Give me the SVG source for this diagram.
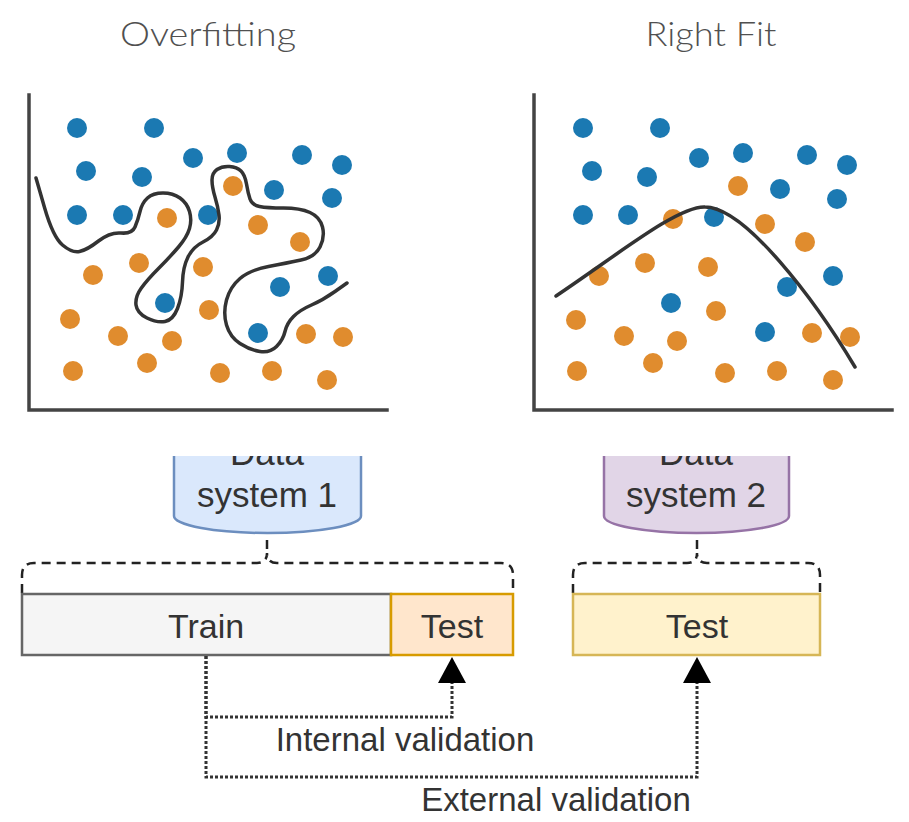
<svg xmlns="http://www.w3.org/2000/svg" width="909" height="822" viewBox="0 0 909 822">
  <style>
    .title { font-family: "Lato", "Open Sans", "Liberation Sans", sans-serif; font-size: 34px; font-weight: 300; fill: #505050; text-anchor: middle; }
    .lbl { font-family: "Liberation Sans", Arial, sans-serif; fill: #333333; text-anchor: middle; }
    .axis { fill: none; stroke: #444444; stroke-width: 3.5; stroke-linecap: square; }
    .fit { fill: none; stroke: #333333; stroke-width: 3.5; stroke-linecap: round; stroke-linejoin: round; }
    .b { fill: #1b79b2; }
    .o { fill: #e08c2e; }
    .brace { fill: none; stroke: #222222; stroke-width: 2.5; stroke-dasharray: 9 6; }
    .dot { fill: none; stroke: #333333; stroke-width: 3; stroke-dasharray: 3 2; }
  </style>
  <defs>
    <clipPath id="lowerClip">
      <rect x="0" y="456" width="909" height="366"/>
    </clipPath>
    <marker id="tri" viewBox="0 0 26 28" refX="0" refY="14" markerWidth="26" markerHeight="28" markerUnits="userSpaceOnUse" orient="auto">
      <path d="M0,0 L26,14 L0,28 Z" fill="#000000"/>
    </marker>
  </defs>
  <rect width="909" height="822" fill="#ffffff"/>

  <!-- Overfitting panel -->
  <g id="overfitting">
    <text class="title" x="208" y="46" textLength="176" lengthAdjust="spacingAndGlyphs">Overfitting</text>
    <path class="axis" d="M29,95 V410 H387"/>
    <g>
      <circle class="b" cx="77" cy="128" r="10"/>
      <circle class="b" cx="154" cy="128" r="10"/>
      <circle class="b" cx="86" cy="171" r="10"/>
      <circle class="b" cx="142" cy="177" r="10"/>
      <circle class="b" cx="193" cy="158" r="10"/>
      <circle class="b" cx="237" cy="153" r="10"/>
      <circle class="b" cx="302" cy="155" r="10"/>
      <circle class="b" cx="342" cy="165" r="10"/>
      <circle class="b" cx="77" cy="215" r="10"/>
      <circle class="b" cx="123" cy="215" r="10"/>
      <circle class="b" cx="208" cy="215" r="10"/>
      <circle class="b" cx="274" cy="190" r="10"/>
      <circle class="b" cx="332" cy="198" r="10"/>
      <circle class="b" cx="165" cy="303" r="10"/>
      <circle class="b" cx="280" cy="287" r="10"/>
      <circle class="b" cx="328" cy="276" r="10"/>
      <circle class="b" cx="258" cy="333" r="10"/>
      <circle class="o" cx="233" cy="186" r="10"/>
      <circle class="o" cx="167" cy="218" r="10"/>
      <circle class="o" cx="258" cy="225" r="10"/>
      <circle class="o" cx="300" cy="242" r="10"/>
      <circle class="o" cx="93" cy="275" r="10"/>
      <circle class="o" cx="139" cy="263" r="10"/>
      <circle class="o" cx="203" cy="267" r="10"/>
      <circle class="o" cx="209" cy="310" r="10"/>
      <circle class="o" cx="70" cy="319" r="10"/>
      <circle class="o" cx="118" cy="336" r="10"/>
      <circle class="o" cx="172" cy="341" r="10"/>
      <circle class="o" cx="147" cy="363" r="10"/>
      <circle class="o" cx="73" cy="371" r="10"/>
      <circle class="o" cx="220" cy="373" r="10"/>
      <circle class="o" cx="272" cy="371" r="10"/>
      <circle class="o" cx="306" cy="334" r="10"/>
      <circle class="o" cx="343" cy="337" r="10"/>
      <circle class="o" cx="327" cy="380" r="10"/>
    </g>
    <path class="fit" d="M36,178 L44.5,207.5 Q53,237 62.5,245 Q72,253 79.5,251.5 Q87,250 98.5,241 Q110,232 121,233 Q132,234 135,227 Q138,220 140,211.5 Q142,203 147.5,198 Q153,193 163,193 Q173,193 180,198 Q187,203 189.5,211.5 Q192,220 189.5,228.5 Q187,237 178.5,247 Q170,257 158.5,268.5 Q147,280 141,288.5 Q135,297 136,305 Q137,313 147,318 Q157,323 165,321.5 Q173,320 177.5,308.5 Q182,297 182.5,282 Q183,267 188,257 Q193,247 203,242 Q213,237 216.5,230 Q220,223 219,215 Q218,207 215,197 Q212,187 212,180 Q212,173 217,169.5 Q222,166 229.5,166.5 Q237,167 241,171 Q245,175 246.5,184 Q248,193 250,199 Q252,205 259.5,206.5 Q267,208 283.5,208 Q300,208 310,212.5 Q320,217 322.5,227 Q325,237 320,247 Q315,257 301,260 Q287,263 268.5,266.5 Q250,270 240,278.5 Q230,287 226.5,300 Q223,313 226.5,325 Q230,337 240,343.5 Q250,350 260,351.5 Q270,353 276.5,346.5 Q283,340 285,331.5 Q287,323 293.5,316.5 Q300,310 311.5,305 Q323,300 335,291.5 L347,283"/>
  </g>

  <!-- Right fit panel -->
  <g id="right-fit">
    <text class="title" x="711" y="46" textLength="131" lengthAdjust="spacingAndGlyphs">Right Fit</text>
    <path class="axis" d="M534,95 V410 H892"/>
    <g>
      <circle class="b" cx="583" cy="128" r="10"/>
      <circle class="b" cx="660" cy="128" r="10"/>
      <circle class="b" cx="592" cy="171" r="10"/>
      <circle class="b" cx="647" cy="177" r="10"/>
      <circle class="b" cx="699" cy="158" r="10"/>
      <circle class="b" cx="743" cy="153" r="10"/>
      <circle class="b" cx="807" cy="155" r="10"/>
      <circle class="b" cx="847" cy="165" r="10"/>
      <circle class="b" cx="583" cy="215" r="10"/>
      <circle class="b" cx="628" cy="215" r="10"/>
      <circle class="b" cx="714" cy="217" r="10"/>
      <circle class="b" cx="780" cy="189" r="10"/>
      <circle class="b" cx="837" cy="199" r="10"/>
      <circle class="b" cx="671" cy="303" r="10"/>
      <circle class="b" cx="787" cy="287" r="10"/>
      <circle class="b" cx="833" cy="276" r="10"/>
      <circle class="b" cx="765" cy="332" r="10"/>
      <circle class="o" cx="738" cy="186" r="10"/>
      <circle class="o" cx="673" cy="219" r="10"/>
      <circle class="o" cx="765" cy="224" r="10"/>
      <circle class="o" cx="805" cy="242" r="10"/>
      <circle class="o" cx="599" cy="276" r="10"/>
      <circle class="o" cx="645" cy="263" r="10"/>
      <circle class="o" cx="708" cy="267" r="10"/>
      <circle class="o" cx="716" cy="311" r="10"/>
      <circle class="o" cx="576" cy="320" r="10"/>
      <circle class="o" cx="624" cy="336" r="10"/>
      <circle class="o" cx="677" cy="341" r="10"/>
      <circle class="o" cx="653" cy="363" r="10"/>
      <circle class="o" cx="577" cy="371" r="10"/>
      <circle class="o" cx="725" cy="373" r="10"/>
      <circle class="o" cx="777" cy="371" r="10"/>
      <circle class="o" cx="812" cy="333" r="10"/>
      <circle class="o" cx="850" cy="337" r="10"/>
      <circle class="o" cx="833" cy="380" r="10"/>
    </g>
    <path class="fit" d="M556,296 C620,253 678,206 705,207 C745,207 815,300 855,367"/>
  </g>

  <!-- Data sources (upper part cut off) -->
  <g id="data-system-1" clip-path="url(#lowerClip)">
    <path d="M174,430 L174,516 A93.5,17 0 0 0 361,516 L361,430 Z" fill="#dae8fc" stroke="#6c8ebf" stroke-width="2.5"/>
    <text class="lbl" x="267" y="465" font-size="35">Data</text>
    <text class="lbl" x="267" y="507" font-size="35">system 1</text>
  </g>
  <g id="data-system-2" clip-path="url(#lowerClip)">
    <path d="M604,430 L604,516 A92.5,17 0 0 0 789,516 L789,430 Z" fill="#e1d5e7" stroke="#9673a6" stroke-width="2.5"/>
    <text class="lbl" x="696" y="465" font-size="35">Data</text>
    <text class="lbl" x="696" y="507" font-size="35">system 2</text>
  </g>

  <!-- Splits -->
  <g id="brace-1">
    <path class="brace" d="M267,540 V553"/>
    <path class="brace" d="M22,593 V575 Q22,563 34,563 H257 Q267,563 267,553 Q267,563 277,563 H501 Q513,563 513,575 V593"/>
  </g>
  <g id="brace-2">
    <path class="brace" d="M697,540 V553"/>
    <path class="brace" d="M573,593 V575 Q573,563 585,563 H687 Q697,563 697,553 Q697,563 707,563 H808 Q820,563 820,575 V593"/>
  </g>
  <g id="train">
    <rect x="22" y="594" width="369" height="61" fill="#f5f5f5" stroke="#666666" stroke-width="2.5"/>
    <text class="lbl" x="206" y="638" font-size="34">Train</text>
  </g>
  <g id="test-internal">
    <rect x="391" y="594" width="122" height="61" fill="#ffe6cc" stroke="#d79b00" stroke-width="2.5"/>
    <text class="lbl" x="452" y="638" font-size="34">Test</text>
  </g>
  <g id="test-external">
    <rect x="573" y="594" width="247" height="61" fill="#fff2cc" stroke="#d6b656" stroke-width="2.5"/>
    <text class="lbl" x="697" y="638" font-size="34">Test</text>
  </g>

  <!-- Validation connectors -->
  <g id="connectors">
    <path class="dot" d="M206,656 V717 H452 V683" marker-end="url(#tri)"/>
    <path class="dot" d="M206,656 V777 H697 V683" marker-end="url(#tri)"/>
  </g>
  <g id="labels">
    <text class="lbl" x="405" y="751" font-size="33">Internal validation</text>
    <text class="lbl" x="556" y="811" font-size="33">External validation</text>
  </g>
</svg>
